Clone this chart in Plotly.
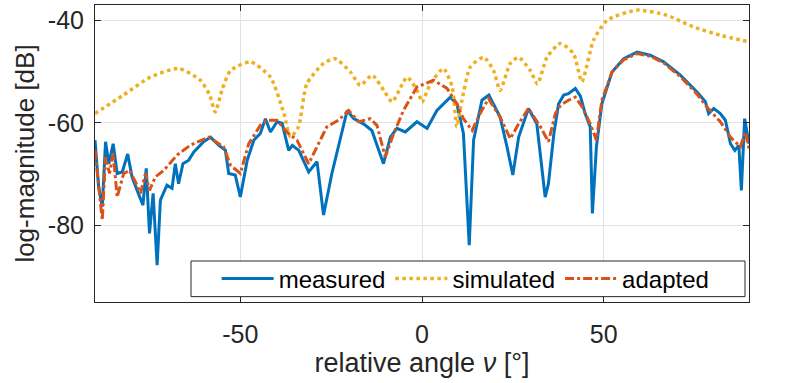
import plotly.graph_objects as go

# measured beam pattern
measured_x = [-90, -89, -88, -87.1, -86.2, -85, -83.9, -82.5, -81, -79.8, -78.4, -76.8, -75.9, -75, -74,
              -72.9, -72, -70.2, -68.8, -67.9, -67, -65.8, -64.2, -62.8, -60.1, -58.2, -55.9, -54.1, -53.2,
              -51.4, -50, -48.1, -46.3, -44.5, -43.1, -41.7, -39.9, -38.5, -36.7, -35.7, -33.9, -31.2, -28.9,
              -27.1, -24.8, -23, -20.6, -18.8, -16.1, -13.8, -11.9, -10.6, -8.7, -6.9, -4.6, -1.4, 1.4, 4.1,
              7.8, 9.6, 11.4, 13, 14.2, 16.5, 18.4, 21.5, 23.4, 25, 26.6, 29.3, 31.6, 33.9, 34.8, 36.3, 37.6,
              39, 40.3, 42.2, 43.6, 44.9, 46.3, 46.9, 48, 49.5, 52.3, 55.5, 59.2, 62.8, 66.5, 71.1, 75.7, 78,
              78.9, 80.3, 82.1, 83.5, 84.9, 86.1, 87.2, 87.9, 88.8, 90]
measured_y = [-63.4, -72.5, -76.4, -63.7, -68.0, -64.1, -69.9, -69.6, -66.1, -70.6, -73.2, -76.1, -68.9, -81.6,
              -73.8, -87.8, -75.1, -72.2, -72.8, -68.0, -71.9, -68.0, -67.3, -65.7, -63.7, -62.8, -64.4, -65.4,
              -69.9, -70.2, -74.5, -67.3, -63.4, -62.1, -59.2, -61.8, -59.8, -60.1, -65.4, -64.4, -65.4, -69.6,
              -67.6, -78.0, -69.9, -64.7, -57.6, -59.2, -60.2, -61.5, -65.4, -68.0, -62.8, -61.1, -61.8, -59.8,
              -61.1, -57.6, -55.0, -56.3, -62.1, -83.9, -63.4, -55.6, -54.6, -58.9, -64.7, -70.2, -62.8, -57.2,
              -60.2, -74.5, -71.9, -62.1, -56.3, -54.6, -54.3, -53.3, -54.8, -58.2, -60.8, -77.7, -64.7, -56.3,
              -50.1, -47.5, -46.2, -46.8, -48.1, -50.7, -54.0, -55.9, -58.2, -57.2, -58.2, -59.5, -64.1, -65.4,
              -64.4, -73.2, -59.2, -64.1]

# simulated beam pattern
simulated_x = [-90, -82.2, -74.8, -67, -61, -58.5, -56.9, -55, -52.7, -47.2, -41.7, -38, -36.2, -34, -31.7,
               -27.1, -23.9, -19.7, -17, -13.7, -10.5, -8.2, -4.1, -0.9, 0, 2.3, 5.9, 8.3, 9.6, 11, 13.3, 17,
               19.7, 21.5, 24.3, 26.6, 29.8, 31.8, 34.4, 38.1, 41.7, 44, 47.2, 50.9, 59.2, 67.4, 74.8, 82.1, 90]
simulated_y = [-58.2, -54.6, -51.1, -49.4, -51.7, -54.5, -57.9, -53.5, -49.8, -48.1, -51.1, -58.2, -62.8, -60.8,
               -52.4, -48.4, -47.5, -50.1, -52.7, -50.7, -53.7, -55.9, -51.1, -54.3, -56.0, -52.4, -49.4, -53.0,
               -60.8, -55.6, -49.1, -47.2, -49.8, -53.7, -48.4, -47.2, -49.8, -52.4, -47.2, -44.5, -46.5, -52.0,
               -43.9, -40.0, -38.0, -39.0, -41.3, -42.9, -44.2]

# adapted model
adapted_x = [-90, -89, -88, -87.1, -86, -85, -83.9, -82.1, -80.5, -78.9, -77.5, -76.1, -75, -73.4, -71.1,
             -67.4, -63.8, -58.7, -54.6, -52.7, -50, -47.7, -44.5, -42.7, -39.9, -37.2, -34.4, -31.2, -28,
             -26.2, -23, -20.2, -17.4, -14.2, -12.4, -10.1, -7.8, -5.1, -1.4, 3.2, 6.9, 9.6, 11.4, 13.8, 16,
             18.3, 21.5, 24.3, 26.6, 29.3, 32.6, 34.8, 36.7, 38.1, 40.3, 42.2, 44, 46.3, 48, 49.5, 52.3, 55.5,
             59.2, 62.8, 66.5, 71.1, 75.7, 78.4, 82.1, 84.9, 87.6, 89, 90]
adapted_y = [-65.4, -71.9, -79.0, -66.7, -69.9, -66.0, -74.5, -69.9, -69.3, -71.5, -73.8, -69.9, -73.2, -70.6,
             -69.3, -66.3, -64.4, -62.8, -64.7, -68.3, -69.9, -64.1, -60.5, -59.5, -59.5, -61.8, -63.4, -68.0,
             -63.4, -60.8, -59.5, -57.6, -59.8, -59.2, -60.5, -66.7, -62.1, -57.6, -53.0, -51.7, -53.3, -56.3,
             -59.2, -61.5, -58.2, -55.3, -58.9, -63.1, -60.2, -57.2, -60.8, -63.7, -58.2, -56.6, -55.6, -55.0,
             -56.8, -60.2, -63.4, -55.6, -50.1, -47.7, -46.5, -47.0, -48.3, -51.0, -54.4, -56.9, -59.8, -62.8,
             -64.7, -61.8, -65.0]

x_ticks = [-50, 0, 50]
x_labels = ["-50", "0", "50"]
y_ticks = [-80, -60, -40]
y_labels = ["-80", "-60", "-40"]

ink = "#262626"
font = "Liberation Sans, Arial, sans-serif"

fig = go.Figure()
fig.add_trace(go.Scatter(x=measured_x, y=measured_y, mode="lines", name="measured",
                         line=dict(color="#0072BD", width=3)))
fig.add_trace(go.Scatter(x=simulated_x, y=simulated_y, mode="lines", name="simulated",
                         line=dict(color="#EDB120", width=3.5, dash="dot", shape="spline", smoothing=0.6)))
fig.add_trace(go.Scatter(x=adapted_x, y=adapted_y, mode="lines", name="adapted",
                         line=dict(color="#D95319", width=3, dash="dashdot")))

axis_common = dict(showline=True, linecolor=ink, linewidth=1, mirror="allticks",
                   ticks="inside", ticklen=6, tickcolor=ink, automargin=False,
                   showgrid=True, gridcolor="#e3e3e3", gridwidth=1, zeroline=False,
                   tickfont=dict(family=font, size=25, color=ink))

fig.update_xaxes(range=[-90, 90], tickvals=x_ticks, ticktext=x_labels, ticklabelstandoff=10,
                 title=dict(text="relative angle <i>ν</i> [°]", font=dict(family=font, size=27, color=ink),
                            standoff=4),
                 **axis_common)
fig.update_yaxes(range=[-95, -37], tickvals=y_ticks, ticktext=y_labels, ticklabelstandoff=5,
                 title=dict(text="log-magnitude [dB]", font=dict(family=font, size=26, color=ink),
                            standoff=5),
                 **axis_common)

# legend frame drawn as a paper-space box, legend itself sits inside it
fig.add_shape(type="rect", xref="paper", yref="paper", x0=0.1468, x1=0.9939, y0=0.018, y1=0.138,
              line=dict(color=ink, width=1), fillcolor="white", layer="above")

fig.update_layout(
    width=789, height=383,
    margin=dict(l=95, r=40, t=5, b=81),
    plot_bgcolor="white", paper_bgcolor="white",
    legend=dict(orientation="h", x=0.186, xanchor="left", y=0.0774, yanchor="middle",
                bgcolor="rgba(0,0,0,0)", borderwidth=0,
                font=dict(family=font, size=24, color="black"), itemwidth=52),
)

fig.write_html("out.html", config={"displayModeBar": False},
               post_script="document.body.style.margin='0';")
